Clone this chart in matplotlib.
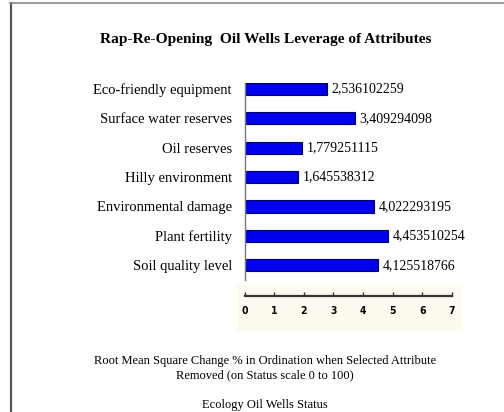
import matplotlib.pyplot as plt
from matplotlib.patches import Rectangle
from matplotlib.lines import Line2D

attributes = ["Eco-friendly equipment", "Surface water reserves", "Oil reserves",
              "Hilly environment", "Environmental damage", "Plant fertility",
              "Soil quality level"]
leverage = [2.536102259, 3.409294098, 1.779251115, 1.645538312,
            4.022293195, 4.453510254, 4.125518766]
ticks = [0, 1, 2, 3, 4, 5, 6, 7]

W, H = 504, 412
fig = plt.figure(figsize=(W / 100, H / 100), dpi=100)
serif = "Liberation Serif"


def box(x0, y0, x1, y1):
    # pixel box (top-left origin) -> figure fraction rect
    return [x0 / W, 1 - y1 / H, (x1 - x0) / W, (y1 - y0) / H]


# frame lines (left and top only)
fig.add_artist(Line2D([10.5 / W, 10.5 / W], [0, 1 - 3 / H], transform=fig.transFigure,
                      color="#555555", lw=1.6))
fig.add_artist(Line2D([10 / W, 1], [1 - 3 / H, 1 - 3 / H], transform=fig.transFigure,
                      color="#888888", lw=1.2))

fig.text(266 / W, 1 - 40 / H, "Rap-Re-Opening  Oil Wells Leverage of Attributes",
         ha="center", va="center", fontsize=11.1, fontweight="bold", family=serif)

# bar area
ax = fig.add_axes(box(245, 83, 470, 280))
y = list(range(len(attributes)))
ax.barh(y, leverage, height=0.42, color="#0000ee", edgecolor="#000066", linewidth=0.8)
ax.set_xlim(0, 7)
ax.set_ylim(6.5, -0.2)
ax.set_yticks(y)
ax.set_yticklabels(attributes, fontsize=10.5, family=serif)
ax.tick_params(axis="y", length=0, pad=9.4)
ax.set_xticks([])
for s in ["top", "right", "bottom"]:
    ax.spines[s].set_visible(False)
ax.spines["left"].set_color("#777777")
ax.spines["left"].set_linewidth(1.0)
for yi, v in zip(y, leverage):
    ax.text(v + 0.15, yi, f"{v:.9f}".replace(".", ","), va="center", ha="left",
            fontsize=10, family=serif)

# separate scale below, on a cream panel
fig.add_artist(Rectangle((237 / W, 1 - 332 / H), 226 / W, 47 / H,
                         transform=fig.transFigure, facecolor="#fdfbef",
                         edgecolor="none", zorder=0))
sx = fig.add_axes(box(244.5, 288, 452, 296))
sx.set_facecolor("none")
sx.set_xlim(0, 7)
sx.set_ylim(0, 1)
for s in ["top", "right", "left"]:
    sx.spines[s].set_visible(False)
sx.spines["bottom"].set_linewidth(1.6)
sx.spines["bottom"].set_color("#333333")
sx.set_yticks([])
sx.set_xticks(ticks)
sx.set_xticklabels([str(t) for t in ticks], fontsize=7.5, fontweight="bold",
                   family="DejaVu Sans", fontstretch="condensed")
sx.tick_params(axis="x", direction="in", length=3, width=1, color="#333333", pad=7)

fig.text(265 / W, 1 - 368 / H,
         "Root Mean Square Change % in Ordination when Selected Attribute\n"
         "Removed (on Status scale 0 to 100)",
         ha="center", va="center", fontsize=9, family=serif, linespacing=1.3)
fig.text(265 / W, 1 - 405 / H, "Ecology Oil Wells Status",
         ha="center", va="center", fontsize=9, family=serif)

fig.savefig("out.png", dpi=100)
